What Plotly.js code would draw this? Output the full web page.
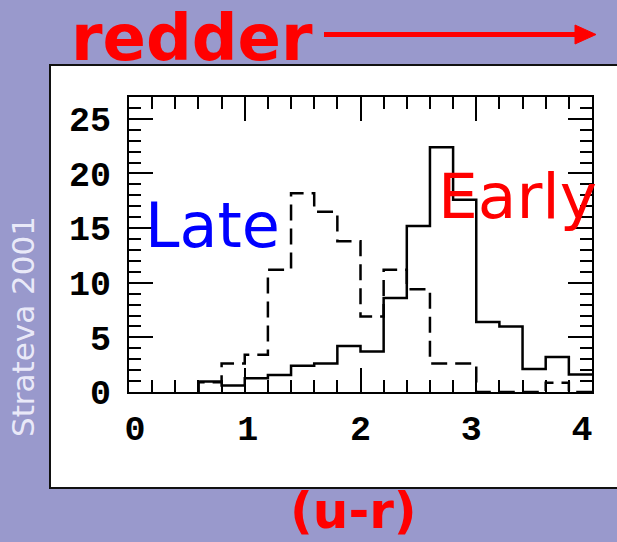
<!DOCTYPE html>
<html>
<head>
<meta charset="utf-8">
<script src="https://cdn.plot.ly/plotly-3.0.1.min.js"></script>
<style>html,body{margin:0;padding:0;background:#9999cc;}#chart{width:617px;height:542px;}</style>
</head>
<body>
<div id="chart"></div>
<script>
// Bin edges of the (u-r) colour histogram
var binEdges = [0.6, 0.8, 1.0, 1.2, 1.4, 1.6, 1.8, 2.0, 2.2, 2.4, 2.6, 2.8, 3.0, 3.2, 3.4, 3.6, 3.8, 4.0];
// Early types (solid histogram), one value per bin
var earlyCounts = [0.95, 0.6, 1.25, 1.55, 2.4, 2.6, 4.2, 3.7, 8.6, 15.2, 22.4, 17.6, 6.4, 6.0, 2.1, 3.2, 1.6];
// Late types (dashed histogram), one value per bin
var lateCounts = [0.9, 2.6, 3.4, 11.2, 18.2, 16.5, 13.8, 6.9, 11.2, 9.4, 2.6, 2.6, 0, 0, 0, 0.85, 0];
var xTickVals = [0, 1, 2, 3, 4];
var xTickText = ['0', '1', '2', '3', '4'];
var yTickVals = [0, 5, 10, 15, 20, 25];

function stepTrace(edges, counts, dash) {
  var xs = [edges[0]], ys = [0];
  for (var i = 0; i < counts.length; i++) { xs.push(edges[i]); ys.push(counts[i]); }
  xs.push(edges[edges.length - 1]); ys.push(counts[counts.length - 1]);
  return {x: xs, y: ys, type: 'scatter', mode: 'lines',
    line: {shape: 'hv', color: 'black', width: 2.5, dash: dash},
    hoverinfo: 'skip', showlegend: false};
}

// plot area in pixels
var L = 129, R = 592, T = 97, B = 392;
function px(x) { return (x - L) / (R - L); }
function py(y) { return (B - y) / (B - T); }
var unitPx = (R - L) / 4;
// small horizontal nudges of the x tick labels (pixels), as in the original figure
var labelNudgePx = [6, 3, 0, -5, -10];
var xLabelPos = xTickVals.map(function (v, i) { return v + labelNudgePx[i] / unitPx; });

var tickFont = {family: 'Liberation Mono', size: 35, color: 'black', weight: 'bold'};
var axisCommon = {
  showline: true, linecolor: 'black', linewidth: 2, mirror: 'ticks',
  ticks: 'inside', ticklen: 24, tickwidth: 2, tickcolor: 'black',
  showgrid: false, zeroline: false, tickfont: tickFont, fixedrange: true
};

var layout = {
  width: 617, height: 542,
  margin: {l: L, r: 617 - R, t: T, b: 542 - B, pad: 0},
  paper_bgcolor: '#9999cc', plot_bgcolor: 'white',
  showlegend: false,
  xaxis: Object.assign({}, axisCommon, {range: [0, 4], tickvals: xTickVals, showticklabels: false,
    minor: {dtick: 0.2, tick0: 0, ticklen: 12, tickwidth: 2, tickcolor: 'black', ticks: 'inside'}}),
  xaxis2: {overlaying: 'x', anchor: 'y', side: 'bottom', range: [0, 4], tickvals: xLabelPos, ticktext: xTickText,
    ticks: '', showline: false, showgrid: false, zeroline: false, tickfont: tickFont, ticklabelstandoff: 12, fixedrange: true},
  yaxis: Object.assign({}, axisCommon, {range: [0, 27], tickvals: yTickVals, ticklabelstandoff: 9,
    minor: {dtick: 1, tick0: 0, ticklen: 12, tickwidth: 2, tickcolor: 'black', ticks: 'inside'}}),
  shapes: [
    {type: 'rect', xref: 'paper', yref: 'paper', x0: px(50), x1: px(625), y0: py(488), y1: py(65),
      fillcolor: 'white', line: {color: '#111', width: 2}, layer: 'below'},
    {type: 'line', xref: 'paper', yref: 'paper', x0: px(324), x1: px(580), y0: py(34.5), y1: py(34.5),
      line: {color: '#ff0000', width: 5}},
    {type: 'path', xref: 'paper', yref: 'paper',
      path: 'M ' + px(575) + ' ' + py(25) + ' L ' + px(596) + ' ' + py(34.5) + ' L ' + px(575) + ' ' + py(44) + ' Z',
      fillcolor: '#ff0000', line: {color: '#ff0000', width: 1}}
  ],
  annotations: [
    {text: 'redder', xref: 'paper', yref: 'paper', x: px(69), y: py(38), xanchor: 'left', yanchor: 'middle',
      showarrow: false, font: {family: 'DejaVu Sans', size: 64, color: '#ff0000', weight: 'bold'}},
    {text: '(u-r)', xref: 'paper', yref: 'paper', x: px(353.5), y: py(511), xanchor: 'center', yanchor: 'middle',
      showarrow: false, font: {family: 'DejaVu Sans', size: 50, color: '#ff0000', weight: 'bold'}},
    {text: 'Late', xref: 'paper', yref: 'paper', x: px(212.5), y: py(225.5), xanchor: 'center', yanchor: 'middle',
      showarrow: false, font: {family: 'DejaVu Sans', size: 62, color: '#0000ff'}},
    {text: 'Early', xref: 'paper', yref: 'paper', x: px(517), y: py(196), xanchor: 'center', yanchor: 'middle',
      showarrow: false, font: {family: 'DejaVu Sans', size: 63, color: '#ff0000'}},
    {text: 'Strateva 2001', xref: 'paper', yref: 'paper', x: px(23), y: py(327), xanchor: 'center', yanchor: 'middle',
      textangle: -90, showarrow: false, font: {family: 'DejaVu Sans', size: 31, color: 'rgba(245,245,255,0.9)'}}
  ]
};

var data = [
  stepTrace(binEdges, lateCounts, '16px,8px'),
  stepTrace(binEdges, earlyCounts, 'solid'),
  {x: [], y: [], xaxis: 'x2', yaxis: 'y', type: 'scatter', mode: 'lines', showlegend: false, hoverinfo: 'skip'}
];
Plotly.newPlot('chart', data, layout, {staticPlot: true, displayModeBar: false});
</script>
</body>
</html>
